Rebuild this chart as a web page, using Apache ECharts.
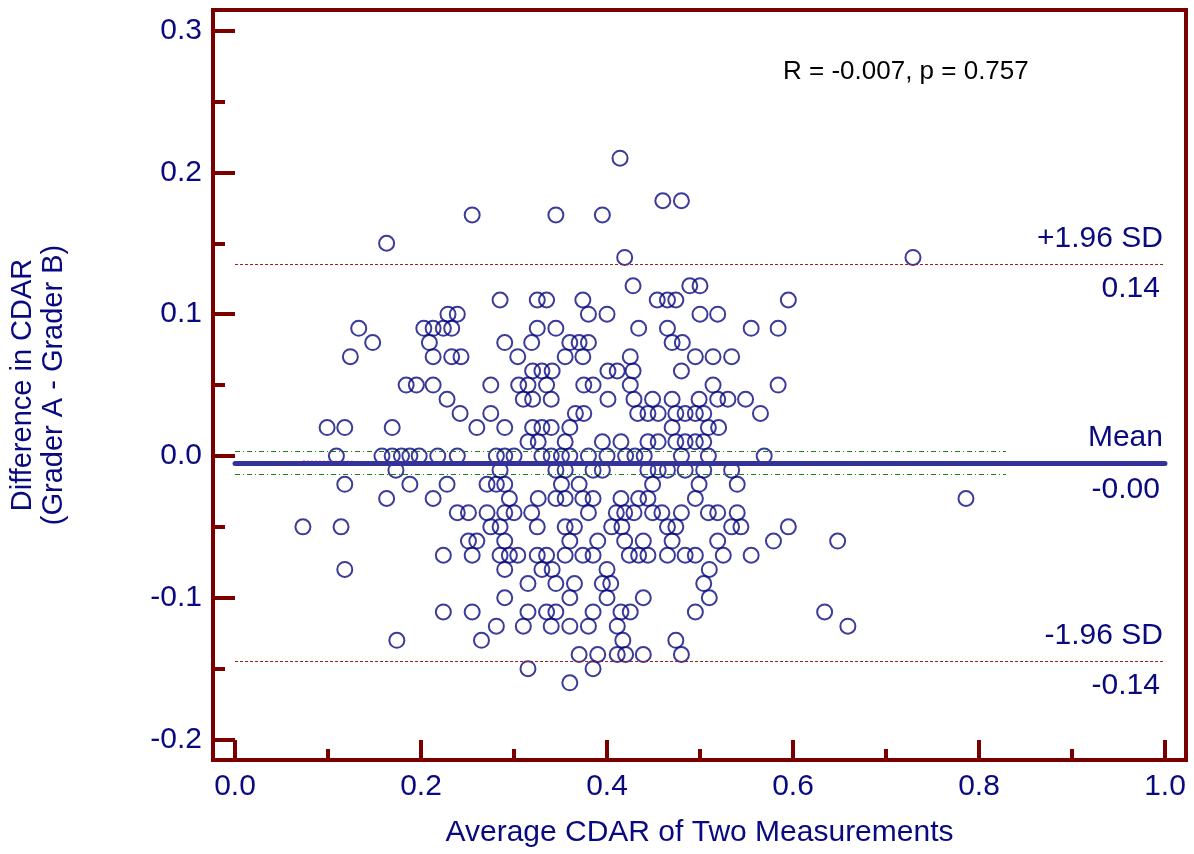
<!DOCTYPE html>
<html>
<head>
<meta charset="utf-8">
<script src="https://cdn.jsdelivr.net/npm/echarts@6/dist/echarts.min.js"></script>
<style>
html, body { margin: 0; padding: 0; background: #fff; }
#ba { width: 1194px; height: 854px; }
</style>
</head>
<body>
<div id="ba"></div>
<script>
// Bland-Altman: difference rows (0.01 steps) and the averages found on each row
var diffLevels = [0.21, 0.18, 0.17, 0.15, 0.14, 0.12, 0.11, 0.10, 0.09, 0.08, 0.07, 0.06, 0.05, 0.04, 0.03, 0.02, 0.01, 0.00,
    -0.01, -0.02, -0.03, -0.04, -0.05, -0.06, -0.07, -0.08, -0.09, -0.10, -0.11, -0.12, -0.13, -0.14, -0.15, -0.16];
var avgAtLevel = [
    [0.414],
    [0.460, 0.480],
    [0.255, 0.345, 0.395],
    [0.163],
    [0.419, 0.729],
    [0.428, 0.489, 0.500],
    [0.285, 0.325, 0.335, 0.374, 0.454, 0.465, 0.474, 0.595],
    [0.229, 0.239, 0.380, 0.400, 0.500, 0.519],
    [0.133, 0.203, 0.213, 0.224, 0.233, 0.325, 0.345, 0.434, 0.465, 0.555, 0.584],
    [0.148, 0.209, 0.290, 0.319, 0.360, 0.370, 0.380, 0.470, 0.481],
    [0.124, 0.213, 0.233, 0.243, 0.304, 0.355, 0.374, 0.425, 0.495, 0.514, 0.534],
    [0.320, 0.330, 0.341, 0.401, 0.411, 0.428, 0.480],
    [0.184, 0.195, 0.213, 0.275, 0.305, 0.315, 0.335, 0.375, 0.385, 0.425, 0.514, 0.584],
    [0.228, 0.310, 0.320, 0.340, 0.401, 0.429, 0.449, 0.470, 0.499, 0.519, 0.530, 0.549],
    [0.242, 0.275, 0.366, 0.375, 0.433, 0.444, 0.455, 0.474, 0.484, 0.495, 0.504, 0.565],
    [0.099, 0.118, 0.169, 0.260, 0.290, 0.320, 0.330, 0.340, 0.360, 0.470, 0.509, 0.520],
    [0.315, 0.326, 0.355, 0.395, 0.415, 0.444, 0.455, 0.474, 0.484, 0.495, 0.504],
    [0.109, 0.158, 0.169, 0.179, 0.188, 0.198, 0.218, 0.239, 0.281, 0.290, 0.300, 0.330, 0.340, 0.351, 0.360, 0.380, 0.400, 0.420, 0.430, 0.440, 0.480, 0.509, 0.569],
    [0.173, 0.285, 0.345, 0.355, 0.385, 0.395, 0.444, 0.455, 0.465, 0.484, 0.504, 0.534],
    [0.118, 0.188, 0.228, 0.271, 0.281, 0.290, 0.351, 0.370, 0.449, 0.499, 0.540],
    [0.163, 0.213, 0.295, 0.326, 0.345, 0.355, 0.374, 0.385, 0.415, 0.434, 0.444, 0.495, 0.786],
    [0.239, 0.251, 0.271, 0.290, 0.300, 0.319, 0.380, 0.410, 0.419, 0.429, 0.449, 0.459, 0.480, 0.509, 0.519, 0.540],
    [0.073, 0.114, 0.275, 0.285, 0.325, 0.355, 0.365, 0.405, 0.416, 0.465, 0.474, 0.534, 0.544, 0.595],
    [0.251, 0.260, 0.290, 0.360, 0.390, 0.419, 0.439, 0.470, 0.519, 0.579, 0.648],
    [0.224, 0.255, 0.285, 0.295, 0.304, 0.325, 0.335, 0.355, 0.374, 0.385, 0.424, 0.434, 0.444, 0.465, 0.484, 0.495, 0.525, 0.555],
    [0.118, 0.290, 0.330, 0.341, 0.400, 0.510],
    [0.315, 0.345, 0.365, 0.395, 0.404, 0.504],
    [0.290, 0.360, 0.400, 0.439, 0.510],
    [0.224, 0.255, 0.315, 0.335, 0.345, 0.385, 0.415, 0.425, 0.495, 0.634],
    [0.281, 0.310, 0.340, 0.360, 0.380, 0.411, 0.659],
    [0.174, 0.265, 0.417, 0.474],
    [0.370, 0.390, 0.411, 0.420, 0.439, 0.480],
    [0.315, 0.385],
    [0.360]
];

// reference lines
var meanDiff = -0.0049;
var upperLoA = 0.1354;
var lowerLoA = -0.1446;
var ciMean = [0.0033, -0.0131];
var ciEndX = 0.829;
var regLineX = [0.073, 0.786];
var regLineY = [-0.0038, -0.0062];

var xTicksMajor = [0, 0.2, 0.4, 0.6, 0.8, 1.0];
var xTicksMinor = [0.1, 0.3, 0.5, 0.7, 0.9];
var yTicksMajor = [-0.2, -0.1, 0, 0.1, 0.2, 0.3];
var yTicksMinor = [-0.15, -0.05, 0.05, 0.15, 0.25];

var points = [];
for (var i = 0; i < diffLevels.length; i++) {
    for (var j = 0; j < avgAtLevel[i].length; j++) {
        points.push([avgAtLevel[i][j], diffLevels[i]]);
    }
}

var red = '#7a0000';
var navy = '#0a0a80';
var font = 'Liberation Sans, Arial, sans-serif';
var xMin = -0.0237, xMax = 1.0226, yMin = -0.2144, yMax = 0.3145;

function lbl(text, pos, dist) {
    return {
        show: true, formatter: text, position: pos, distance: dist,
        color: navy, fontSize: 30, fontFamily: font
    };
}
var hidden = { color: 'rgba(0,0,0,0)', width: 0 };

var myChart = echarts.init(document.getElementById('ba'));
var option = {
    animation: false,
    title: {
        text: 'R = -0.007, p = 0.757',
        left: 778, top: 54,
        textStyle: { color: '#000', fontSize: 26, fontWeight: 'normal', fontFamily: font }
    },
    grid: {
        left: 213, right: 8, top: 10, bottom: 94,
        outerBoundsMode: 'none', containLabel: false,
        show: true, borderColor: red, borderWidth: 4
    },
    xAxis: [
        {
            type: 'value', min: xMin, max: xMax, position: 'bottom',
            name: 'Average CDAR of Two Measurements', nameLocation: 'middle', nameGap: 58,
            nameTextStyle: { color: navy, fontSize: 30, fontFamily: font },
            axisLine: { show: true, onZero: false, lineStyle: { color: red, width: 4 } },
            axisTick: { show: true, inside: true, length: 20, customValues: xTicksMajor, lineStyle: { color: red, width: 4 } },
            axisLabel: {
                customValues: xTicksMajor, color: navy, fontSize: 30, fontFamily: font, margin: 12,
                formatter: function (v) { return v.toFixed(1); }
            },
            splitLine: { show: false }
        },
        {
            type: 'value', min: xMin, max: xMax, position: 'bottom',
            axisLine: { show: false, onZero: false },
            axisTick: { show: true, inside: true, length: 11, customValues: xTicksMinor, lineStyle: { color: red, width: 4 } },
            axisLabel: { show: false },
            splitLine: { show: false }
        }
    ],
    yAxis: [
        {
            type: 'value', min: yMin, max: yMax, position: 'left',
            name: 'Difference in CDAR\n(Grader A - Grader B)', nameLocation: 'middle', nameGap: 144, nameRotate: 90,
            nameTextStyle: { color: navy, fontSize: 29, fontFamily: font, lineHeight: 31 },
            axisLine: { show: true, onZero: false, lineStyle: { color: red, width: 4 } },
            axisTick: { show: true, inside: true, length: 22, customValues: yTicksMajor, lineStyle: { color: red, width: 4 } },
            axisLabel: {
                customValues: yTicksMajor, color: navy, fontSize: 30, fontFamily: font, margin: 11,
                formatter: function (v) { return v.toFixed(1); }
            },
            splitLine: { show: false }
        },
        {
            type: 'value', min: yMin, max: yMax, position: 'left',
            axisLine: { show: false, onZero: false },
            axisTick: { show: true, inside: true, length: 12, customValues: yTicksMinor, lineStyle: { color: red, width: 4 } },
            axisLabel: { show: false },
            splitLine: { show: false }
        }
    ],
    series: [
        {
            name: 'points',
            type: 'scatter',
            symbol: 'circle',
            symbolSize: 15,
            itemStyle: { color: 'rgba(0,0,0,0)', borderColor: navy, borderWidth: 2 },
            data: points,
            z: 2
        },
        {
            name: 'regression',
            type: 'line',
            symbol: 'none',
            data: [[regLineX[0], regLineY[0]], [regLineX[1], regLineY[1]]],
            lineStyle: { color: '#ff00ff', width: 1.5, type: [2, 2] },
            z: 3
        },
        {
            name: 'ci',
            type: 'line',
            data: [],
            z: 3,
            markLine: {
                silent: true, symbol: ['none', 'none'],
                label: { show: false },
                lineStyle: { color: '#1e7a1e', width: 1, type: [5, 3, 1, 3] },
                data: [
                    [{ coord: [0, ciMean[0]] }, { coord: [ciEndX, ciMean[0]] }],
                    [{ coord: [0, ciMean[1]] }, { coord: [ciEndX, ciMean[1]] }]
                ]
            }
        },
        {
            name: 'limits',
            type: 'line',
            data: [],
            z: 4,
            markLine: {
                silent: true, symbol: ['none', 'none'],
                data: [
                    [{ coord: [0, upperLoA], lineStyle: { color: '#9a2020', width: 1, type: [3, 2] }, label: lbl('+1.96 SD', 'insideEndTop', [2, 10]) },
                     { coord: [1, upperLoA] }],
                    [{ coord: [0, upperLoA], lineStyle: hidden, label: lbl('0.14', 'insideEndBottom', [5, 10]) },
                     { coord: [1, upperLoA] }],
                    [{ coord: [0, lowerLoA], lineStyle: { color: '#9a2020', width: 1, type: [3, 2] }, label: lbl('-1.96 SD', 'insideEndTop', [2, 10]) },
                     { coord: [1, lowerLoA] }],
                    [{ coord: [0, lowerLoA], lineStyle: hidden, label: lbl('-0.14', 'insideEndBottom', [5, 10]) },
                     { coord: [1, lowerLoA] }],
                    [{ coord: [0, meanDiff], lineStyle: { color: '#333399', width: 5, type: 'solid', cap: 'round' }, label: lbl('Mean', 'insideEndTop', [2, 10]) },
                     { coord: [1, meanDiff] }],
                    [{ coord: [0, meanDiff], lineStyle: hidden, label: lbl('-0.00', 'insideEndBottom', [5, 12]) },
                     { coord: [1, meanDiff] }]
                ]
            }
        }
    ]
};
if (option && typeof option === "object") {
    myChart.setOption(option, true);
}
</script>
</body>
</html>
